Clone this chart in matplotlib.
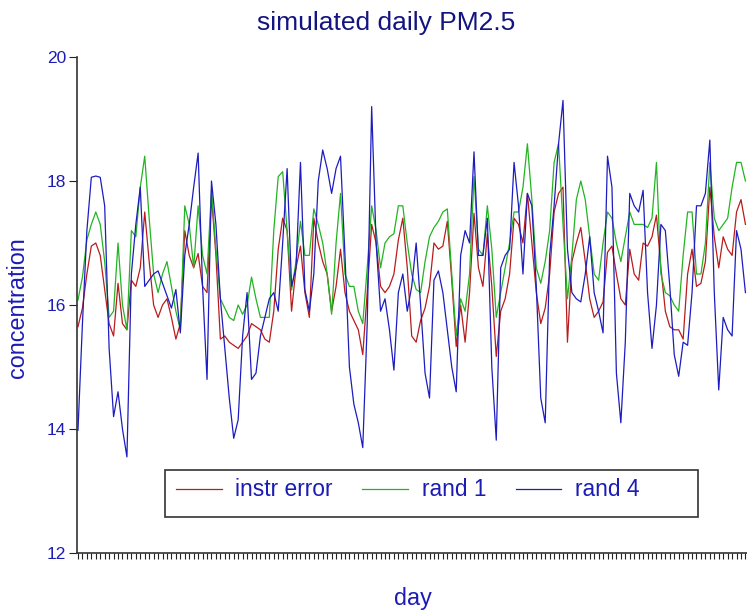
import numpy as np
import matplotlib
matplotlib.use('Agg')
import matplotlib.pyplot as plt
from matplotlib.patches import Rectangle

plt.rcParams['font.family'] = ['Liberation Sans', 'DejaVu Sans']

# values, one per day
instr_error = [15.65, 15.95, 16.5, 16.95, 17.0, 16.8, 16.25, 15.7, 15.5, 16.35,
               15.7, 15.6, 16.4, 16.3, 16.6, 17.5, 16.7, 16.0, 15.8, 16.0,
               16.1, 15.8, 15.45, 15.7, 17.2, 16.8, 16.6, 16.83, 16.3, 16.2,
               17.75, 16.8, 15.45, 15.5, 15.4, 15.35, 15.3, 15.4, 15.5, 15.7,
               15.65, 15.6, 15.45, 15.4, 15.9, 16.9, 17.4, 17.2, 15.9, 16.6,
               16.95, 16.2, 15.8, 17.4, 17.0, 16.7, 16.5, 15.9, 16.3, 16.9,
               16.2, 15.9, 15.75, 15.6, 15.2, 16.2, 17.3, 17.0, 16.3, 16.2,
               16.3, 16.5, 17.05, 17.4, 16.6, 15.5, 15.4, 15.75, 15.95, 16.3,
               17.0, 16.9, 16.95, 17.35, 16.4, 15.33, 16.0, 15.4, 16.2, 17.48,
               16.6, 16.3, 17.15, 16.3, 15.17, 15.9, 16.1, 16.5, 17.4, 17.3,
               17.0, 17.8, 17.0, 16.2, 15.7, 15.95, 16.5, 17.5, 17.8, 17.9,
               15.4, 16.7, 17.0, 17.25, 16.7, 16.1, 15.8, 15.9, 16.05, 16.85,
               16.95, 16.5, 16.1, 16.0, 16.9, 16.5, 16.4, 17.0, 16.95, 17.1,
               17.45, 16.6, 15.9, 15.65, 15.6, 15.6, 15.45, 16.5, 16.9, 16.3,
               16.35, 16.7, 17.9, 17.1, 16.6, 17.1, 16.9, 16.8, 17.5, 17.7,
               17.3]

rand1 = [16.08, 16.45, 17.05, 17.3, 17.5, 17.3, 16.7, 15.8, 15.9, 17.0,
         16.0, 15.6, 17.2, 17.1, 17.9, 18.4, 17.4, 16.5, 16.2, 16.5,
         16.7, 16.3, 15.9, 15.6, 17.6, 17.3, 16.6, 17.6, 16.8, 16.5,
         17.85, 16.9, 16.1, 15.95, 15.8, 15.75, 16.0, 15.85, 16.0, 16.45,
         16.1, 15.8, 15.8, 15.8, 17.2, 18.07, 18.15, 17.2, 16.24, 16.7,
         17.35, 16.8, 16.8, 17.55, 17.3, 17.0, 16.5, 15.85, 17.0, 17.8,
         16.5, 16.3, 16.3, 15.9, 15.7, 16.6, 17.6, 17.2, 16.6, 17.0,
         17.1, 17.15, 17.6, 17.6, 17.0, 16.5, 16.25, 16.2, 16.7, 17.1,
         17.25, 17.35, 17.5, 17.55, 16.5, 15.5, 16.1, 15.9, 16.5, 18.07,
         16.9, 16.8, 17.6, 16.9, 15.8, 16.2, 16.6, 17.0, 17.5, 17.5,
         17.9, 18.6, 17.7, 16.6, 16.35, 16.7, 17.2, 18.3, 18.6, 17.3,
         16.1, 16.8, 17.7, 18.0, 17.7, 17.1, 16.5, 16.4, 17.0, 17.5,
         17.4, 17.0, 16.7, 17.1, 17.5, 17.3, 17.3, 17.3, 17.25, 17.4,
         18.3, 16.5, 16.2, 16.15, 16.0, 15.9, 16.8, 17.5, 17.5, 16.5,
         16.5, 17.0, 18.3, 17.4, 17.2, 17.3, 17.4, 17.9, 18.3, 18.3,
         18.0]

rand4 = [13.98, 15.7, 17.2, 18.06, 18.08, 18.06, 17.6, 15.3, 14.2, 14.6,
         14.0, 13.55, 16.5, 17.3, 17.9, 16.3, 16.4, 16.5, 16.55, 16.35,
         16.15, 15.95, 16.25, 15.55, 16.8, 17.3, 17.9, 18.45, 16.3, 14.8,
         18.0, 17.3, 16.1, 15.3, 14.5, 13.85, 14.15, 15.5, 16.2, 14.8,
         14.9, 15.5, 15.8, 16.1, 16.2, 15.9, 17.0, 18.2, 16.3, 16.6,
         18.3, 16.24, 15.9, 16.5, 18.0, 18.5, 18.2, 17.8, 18.2, 18.4,
         16.8, 15.0, 14.4, 14.1, 13.7, 15.7, 19.2, 17.0, 15.9, 16.1,
         15.6, 14.95, 16.2, 16.5, 15.9, 16.3, 17.0, 16.0, 14.9, 14.5,
         16.4, 16.55, 16.2, 15.6, 15.0, 14.6, 16.8, 17.2, 17.0, 18.47,
         16.8, 16.8, 17.4, 15.0, 13.82, 16.6, 16.8, 16.9, 18.3, 17.6,
         16.5, 17.8, 17.6, 16.3, 14.5, 14.1, 16.8, 17.6, 18.6, 19.3,
         16.9, 16.2, 16.1, 16.05, 16.5, 17.1, 16.2, 15.9, 15.55, 18.4,
         17.9, 14.9, 14.1, 15.4, 17.8, 17.6, 17.5, 17.85, 16.2, 15.3,
         16.0, 17.3, 17.2, 16.3, 15.2, 14.85, 15.4, 15.35, 16.2, 17.6,
         17.6, 17.8, 18.66, 16.2, 14.63, 15.8, 15.6, 15.5, 17.2, 16.9,
         16.2]

day = np.arange(1, len(rand4) + 1)
txt_blue = '#1c1cb4'

fig = plt.figure(figsize=(7.47, 6.10), dpi=100)
ax = fig.add_axes([77/747, 1-553/610, 1-77/747, 496/610])

l1, = ax.plot(day, instr_error, c='#b81c1c', lw=0.9, label='instr error')
l2, = ax.plot(day, rand1, c='#22b422', lw=0.9, label='rand 1')
l3, = ax.plot(day, rand4, c='#1c1cc0', lw=0.9, label='rand 4')

ax.set_xlim(0.78, 151.35)
ax.set_ylim(12, 20)
ax.set_yticks([12, 14, 16, 18, 20])
ax.set_xticks(day)
ax.set_xticklabels([])
ax.tick_params(axis='x', direction='out', length=4.5, width=0.8, color='#222222')
ax.tick_params(axis='y', direction='out', length=6, width=0.8, color='#222222',
               labelcolor=txt_blue, labelsize=12.5, pad=2)
for s in ['top', 'right']:
    ax.spines[s].set_visible(False)
for s in ['left', 'bottom']:
    ax.spines[s].set_color('#333333')
    ax.spines[s].set_linewidth(1.2)

fig.text(386/747, 1-23/610, 'simulated daily PM2.5', ha='center', va='center',
         fontsize=19, color='#141480')
fig.text(18/747, 1-308/610, 'concentration', ha='center', va='center',
         rotation=90, fontsize=16.8, color=txt_blue)
fig.text(413/747, 1-598/610, 'day', ha='center', va='center',
         fontsize=16.8, color=txt_blue)

# legend box
fig.add_artist(Rectangle((165/747, 1-517/610), 533/747, 47/610,
                         transform=fig.transFigure, facecolor='white',
                         edgecolor='#333333', lw=1.2, zorder=3))
leg = fig.legend(handles=[l1, l2, l3], ncol=3, loc='center left',
                 bbox_to_anchor=(176/747, 1-490/610), frameon=False,
                 borderpad=0, borderaxespad=0, fontsize=16.4,
                 handlelength=2.0, handletextpad=0.6, columnspacing=1.3)
leg.set_zorder(5)
for t in leg.get_texts():
    t.set_color(txt_blue)

fig.savefig('out.png', dpi=100)
